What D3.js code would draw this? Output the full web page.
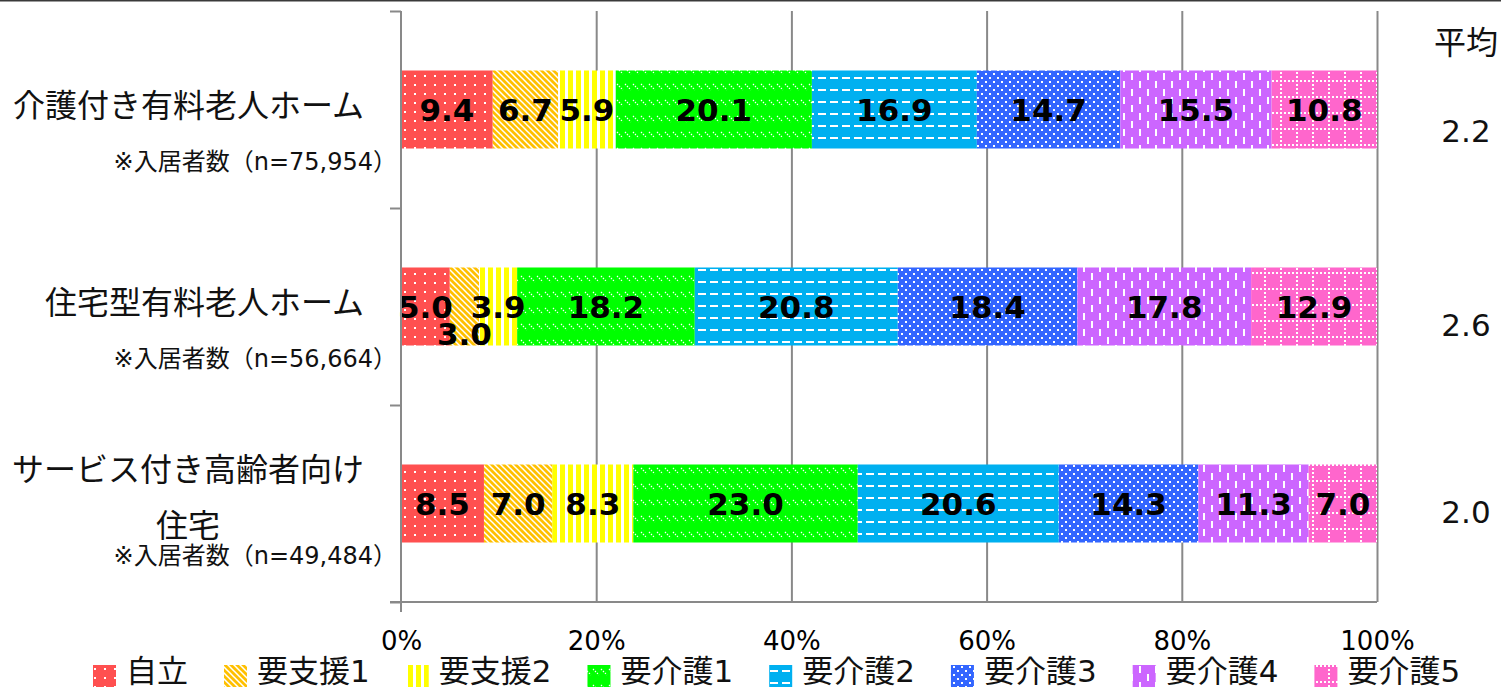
<!DOCTYPE html>
<html><head><meta charset="utf-8">
<script src="https://cdn.jsdelivr.net/npm/d3@7"></script>
<style>body{margin:0;background:#fff}svg{display:block}</style>
</head><body>
<svg id="chart" width="1501" height="688"></svg>
<script>
// Care-level breakdown of residents by type of senior housing (%)
const categories = ["介護付き有料老人ホーム", "住宅型有料老人ホーム", "サービス付き高齢者向け住宅"];
const categoryLines = [["介護付き有料老人ホーム"], ["住宅型有料老人ホーム"], ["サービス付き高齢者向け", "住宅"]];
const sampleNotes = ["※入居者数（n=75,954）", "※入居者数（n=56,664）", "※入居者数（n=49,484）"];
const seriesNames = ["自立", "要支援1", "要支援2", "要介護1", "要介護2", "要介護3", "要介護4", "要介護5"];
const jiritsu = [9.4, 5.0, 8.5];
const shien1 = [6.7, 3.0, 7.0];
const shien2 = [5.9, 3.9, 8.3];
const kaigo1 = [20.1, 18.2, 23.0];
const kaigo2 = [16.9, 20.8, 20.6];
const kaigo3 = [14.7, 18.4, 14.3];
const kaigo4 = [15.5, 17.8, 11.3];
const kaigo5 = [10.8, 12.9, 7.0];
const averageTitle = "平均";
const averages = ["2.2", "2.6", "2.0"];
const xTicks = [0, 20, 40, 60, 80, 100];

const seriesValues = [jiritsu, shien1, shien2, kaigo1, kaigo2, kaigo3, kaigo4, kaigo5];
const table = categories.map((c, i) => {
  const row = {category: c};
  seriesNames.forEach((s, k) => row[s] = seriesValues[k][i]);
  return row;
});

const W = 1501, H = 688;
const FONT = "'DejaVu Sans','Noto Sans CJK JP',sans-serif";
const AXIS = "#898989";
const svg = d3.select("#chart").attr("font-family", FONT);

const x = d3.scaleLinear().domain([0, 100]).range([401, 1377]);
const y = d3.scaleBand().domain(categories).range([11, 602]).paddingInner(0.604).paddingOuter(0.302);

// ---- fill patterns ----
const defs = svg.append("defs");
function pattern(id, w, h, bg, draw) {
  const p = defs.append("pattern").attr("id", id)
    .attr("patternUnits", "userSpaceOnUse").attr("width", w).attr("height", h);
  p.append("rect").attr("width", w).attr("height", h).attr("fill", bg);
  draw(p);
}
const white = "#ffffff";
pattern("p0", 10, 9, "#FF5050", p => {
  p.append("rect").attr("x", 4).attr("y", 3).attr("width", 2).attr("height", 2).attr("fill", white);
});
pattern("p1", 6, 6, "#FFC000", p => {
  p.append("path").attr("d", "M-1,-1L7,7M-1,5L1,7M5,-1L7,1").attr("stroke", white).attr("stroke-width", 1.5);
});
pattern("p2", 8, 8, "#FFFF00", p => {
  p.append("rect").attr("x", 5).attr("y", 0).attr("width", 3).attr("height", 8).attr("fill", white);
});
pattern("p3", 8, 16, "#00FF00", p => {
  p.append("path").attr("d", "M1,4L7,10").attr("stroke", white).attr("stroke-width", 1.2).attr("stroke-dasharray", "1.4 1.4");
});
pattern("p4", 12, 12, "#00B0F0", p => {
  p.append("rect").attr("x", 2).attr("y", 5).attr("width", 8).attr("height", 2).attr("fill", white);
});
pattern("p5", 8, 8, "#3366FF", p => {
  p.append("rect").attr("x", 1).attr("y", 1).attr("width", 2).attr("height", 2).attr("fill", white);
  p.append("rect").attr("x", 5).attr("y", 5).attr("width", 2).attr("height", 2).attr("fill", white);
});
pattern("p6", 16, 16, "#CC66FF", p => {
  p.append("rect").attr("x", 3).attr("y", 1).attr("width", 2).attr("height", 7).attr("fill", white);
  p.append("rect").attr("x", 11).attr("y", 9).attr("width", 2).attr("height", 7).attr("fill", white);
});
pattern("p7", 16, 16, "#FF66CC", p => {
  p.append("path").attr("d", "M0,1H16M1,0V16").attr("stroke", white).attr("stroke-width", 2).attr("stroke-dasharray", "2 2");
});
const fillOf = k => `url(#p${k})`;

// ---- frame line along the top edge ----
svg.append("line").attr("x1", 0).attr("x2", W).attr("y1", 0.75).attr("y2", 0.75)
  .attr("stroke", "#3a3a3a").attr("stroke-width", 1.5);

// ---- vertical gridlines ----
svg.append("g").attr("transform", "translate(0,11)")
  .call(d3.axisBottom(x).tickValues(xTicks.slice(1)).tickSize(591).tickFormat(""))
  .call(g => g.select(".domain").remove())
  .call(g => g.selectAll("line").attr("stroke", AXIS).attr("stroke-width", 2));

// ---- stacked bars ----
const stacked = d3.stack().keys(seriesNames)(table);
svg.append("g").selectAll("g").data(stacked).join("g")
  .attr("fill", (d, k) => fillOf(k))
  .selectAll("rect").data(d => d).join("rect")
  .attr("x", d => x(d[0]))
  .attr("y", d => y(d.data.category))
  .attr("width", d => x(d[1]) - x(d[0]))
  .attr("height", y.bandwidth());

// value labels, drawn above every segment
const labelDrop = {"要支援1|住宅型有料老人ホーム": 27};
const labelData = stacked.flatMap(layer => layer.map(v => ({v, key: layer.key})));
svg.append("g").selectAll("text").data(labelData).join("text")
  .attr("x", d => (x(d.v[0]) + x(d.v[1])) / 2)
  .attr("y", d => y(d.v.data.category) + y.bandwidth() / 2 + (labelDrop[d.key + "|" + d.v.data.category] || 0))
  .attr("dy", "0.37em")
  .attr("text-anchor", "middle")
  .attr("font-family", "'DejaVu Sans',sans-serif")
  .attr("font-weight", "bold").attr("font-size", 31).attr("fill", "#000")
  .text(d => d.v.data[d.key].toFixed(1));

// ---- axes ----
svg.append("g").attr("transform", "translate(0,602)")
  .call(d3.axisBottom(x).tickValues(xTicks).tickSize(0).tickPadding(0).tickFormat(d => d + "%"))
  .call(g => g.select(".domain").attr("d", "M390,0H1377").attr("stroke", AXIS).attr("stroke-width", 2))
  .call(g => g.selectAll("text").attr("font-family", FONT).attr("font-size", 26).attr("fill", "#000")
    .attr("dy", null).attr("y", 48));

const edges = d3.scaleLinear().domain([0, categories.length]).range([11, 602]);
svg.append("g").attr("transform", "translate(401,0)")
  .call(d3.axisLeft(edges).tickValues(d3.range(categories.length + 1)).tickSize(11).tickSizeOuter(0).tickFormat(""))
  .call(g => g.select(".domain").attr("d", "M0,11V612").attr("stroke", AXIS).attr("stroke-width", 2))
  .call(g => g.selectAll("line").attr("stroke", AXIS).attr("stroke-width", 2));

// ---- category labels ----
const labelEnd = 364;
const catG = svg.append("g").attr("font-size", 32).attr("fill", "#111");
categories.forEach((c, i) => {
  const mid = y(c) + y.bandwidth() / 2;
  const lines = categoryLines[i];
  if (lines.length === 1) {
    catG.append("text").attr("x", labelEnd).attr("y", mid - 5).attr("dy", "0.38em")
      .attr("text-anchor", "end").text(lines[0]);
  } else {
    const first = catG.append("text").attr("y", mid - 35).attr("dy", "0.38em")
      .attr("text-anchor", "middle").text(lines[0]);
    const wLine = first.node().getComputedTextLength();
    const cx = labelEnd - wLine / 2;
    first.attr("x", cx);
    catG.append("text").attr("x", cx).attr("y", mid + 21).attr("dy", "0.38em")
      .attr("text-anchor", "middle").text(lines[1]);
  }
  catG.append("text").attr("x", 397).attr("y", mid + 52).attr("dy", "0.36em")
    .attr("text-anchor", "end").attr("font-size", 24).text(sampleNotes[i]);
});

// ---- averages column ----
const avgX = 1466;
const avgShift = [21, 18, 8];
svg.append("text").attr("x", avgX).attr("y", 42).attr("dy", "0.38em")
  .attr("text-anchor", "middle").attr("font-size", 32).attr("fill", "#111").text(averageTitle);
svg.append("g").selectAll("text").data(averages).join("text")
  .attr("x", avgX)
  .attr("y", (d, i) => y(categories[i]) + y.bandwidth() / 2 + avgShift[i])
  .attr("dy", "0.36em").attr("text-anchor", "middle")
  .attr("font-size", 31).attr("fill", "#111").text(d => d);

// ---- legend ----
const legend = svg.append("g").attr("transform", "translate(0,665)");
let lx = 93;
seriesNames.forEach((s, k) => {
  legend.append("rect").attr("x", lx).attr("y", 0).attr("width", 23).attr("height", 22).attr("fill", fillOf(k));
  const t = legend.append("text").attr("x", lx + 33).attr("y", 17)
    .attr("font-size", 31).attr("fill", "#111").text(s);
  lx += 33 + t.node().getComputedTextLength() + 36;
});
</script>
</body></html>
